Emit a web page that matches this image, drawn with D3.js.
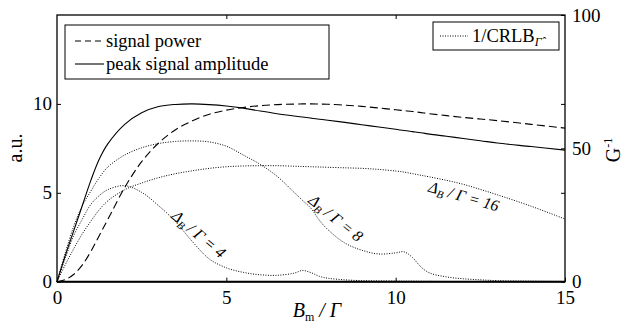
<!DOCTYPE html>
<html><head><meta charset="utf-8">
<script src="https://cdn.jsdelivr.net/npm/d3@7"></script>
<style>
body{margin:0;background:#fff;}
text{font-family:"Liberation Serif","Times New Roman",serif;fill:#000;}
</style></head>
<body><svg id="c" width="638" height="325"></svg>
<script>
// B_m / Gamma sample positions
const bValues = [0,0.25,0.5,0.75,1,1.25,1.5,2,2.5,3,3.5,4,4.5,5,5.5,6,6.5,7,7.25,7.5,7.75,8,8.5,9,9.5,10,10.25,10.5,10.75,11,11.5,12,12.5,13,14,15];
// left axis (a.u.)
const signalPower = [0,0.12,0.42,0.95,1.7,2.6,3.5,5.3,6.75,7.8,8.55,9.05,9.42,9.65,9.8,9.9,9.96,9.99,10,10,9.99,9.98,9.93,9.86,9.77,9.67,9.62,9.57,9.51,9.45,9.34,9.24,9.15,9.06,8.85,8.64];
const peakAmplitude = [0,1.5,2.9,4.3,5.7,6.9,7.75,8.85,9.5,9.85,9.97,10,9.96,9.88,9.76,9.6,9.45,9.32,9.26,9.2,9.14,9.08,8.96,8.83,8.7,8.57,8.5,8.44,8.38,8.3,8.18,8.05,7.93,7.8,7.6,7.4];
// right axis (G^-1), 1/CRLB for three Delta_B/Gamma ratios
const crlbD4 = [0,9,17.5,23.5,29,32.3,34.5,36,33.5,28.5,22.5,15,8.5,5.2,3.5,2.6,2.4,3.2,4.2,3.4,2.0,1.3,0.7,0.4,0.3,0.25,0.2,0.2,0.15,0.15,0.1,0.1,0.1,0.1,0.1,0.1];
const crlbD8 = [0,11,21,28.5,34,39,43,47.5,50.2,51.8,52.6,52.8,52.4,50.8,47.5,44,39.5,33.5,30.5,27.5,23,19.5,14.5,11.8,10.4,10.8,11.2,9,5.5,3.3,1.8,1.1,0.7,0.4,0.2,0.1];
const crlbD16 = [0,6.5,12.5,18,22.7,27,30.3,34.5,37,39,40.5,41.6,42.5,43.1,43.4,43.5,43.5,43.3,43.2,43.1,43,42.9,42.7,42.5,42.1,41.5,41.1,40.5,39.9,39.3,38,36.5,34.6,32.6,28.3,23.5];
const crlbSeries = [
  {name:"4", values:crlbD4},
  {name:"8", values:crlbD8},
  {name:"16", values:crlbD16}
];
const xTicks = [0,5,10,15];
const yLeftTicks = [0,5,10];
const yRightTicks = [0,50,100];

const svg = d3.select("#c");
const L=57,R=565,T=15,B=281.7;
const x = d3.scaleLinear().domain([0,15]).range([L,R]);
const yL = d3.scaleLinear().domain([0,15]).range([B,T]);
const yR = d3.scaleLinear().domain([0,100]).range([B,T]);
const FS = 19;

// curves
const pts = arr => arr.map((v,i)=>[bValues[i],v]);
const lineL = d3.line().x(d=>x(d[0])).y(d=>yL(d[1])).curve(d3.curveCatmullRom.alpha(0.5));
const lineR = d3.line().x(d=>x(d[0])).y(d=>yR(d[1])).curve(d3.curveCatmullRom.alpha(0.5));
const g = svg.append("g");
crlbSeries.forEach(s=>{
  g.append("path").attr("d",lineR(pts(s.values))).attr("fill","none")
   .attr("stroke","#000").attr("stroke-width",1).attr("stroke-dasharray","1,1.5");
});
g.append("path").attr("d",lineL(pts(signalPower))).attr("fill","none")
 .attr("stroke","#000").attr("stroke-width",1.1).attr("stroke-dasharray","8,4");
g.append("path").attr("d",lineL(pts(peakAmplitude))).attr("fill","none")
 .attr("stroke","#000").attr("stroke-width",1.1);

// curve labels
function ratioLabel(cx,cy,ang,val){
  const t = svg.append("text").attr("transform",`translate(${cx},${cy}) rotate(${ang})`)
    .attr("text-anchor","middle").attr("font-size",16).attr("font-style","italic").attr("dy","0.35em");
  t.append("tspan").text("Δ");
  t.append("tspan").attr("font-size",11).attr("dy",3).text("B");
  t.append("tspan").attr("dy",-3).text(" / Γ = "+val);
}
ratioLabel(199,234,40,crlbSeries[0].name);
ratioLabel(336,218,39,crlbSeries[1].name);
ratioLabel(464,196,16,crlbSeries[2].name);

// axes
const ax = svg.append("g");
ax.append("g").attr("transform",`translate(0,${B})`)
  .call(d3.axisBottom(x).tickValues(xTicks).tickSizeInner(-4).tickSizeOuter(0).tickPadding(9).tickFormat(d3.format("d")));
ax.append("g").attr("transform",`translate(0,${T})`)
  .call(d3.axisTop(x).tickValues([5,10]).tickSizeInner(-4).tickSizeOuter(0).tickFormat(""));
ax.append("g").attr("transform",`translate(${L},0)`)
  .call(d3.axisLeft(yL).tickValues(yLeftTicks).tickSizeInner(-4).tickSizeOuter(0).tickPadding(5));
ax.append("g").attr("transform",`translate(${R},0)`)
  .call(d3.axisRight(yL).tickValues([5,10]).tickSizeInner(-4).tickSizeOuter(0).tickFormat(""));
ax.append("g").attr("transform",`translate(${R},0)`)
  .call(d3.axisRight(yR).tickValues(yRightTicks).tickSizeInner(-4).tickSizeOuter(0).tickPadding(7));
ax.selectAll(".domain").remove();
ax.selectAll("text").attr("font-family",'"Liberation Serif",serif').attr("font-size",FS).attr("fill","#000");
ax.selectAll("line").attr("stroke","#000");
// box
svg.append("rect").attr("x",L).attr("y",T).attr("width",R-L).attr("height",B-T)
  .attr("fill","none").attr("stroke","#000").attr("stroke-width",1.3);
svg.append("line").attr("x1",L).attr("x2",R).attr("y1",B).attr("y2",B).attr("stroke","#000").attr("stroke-width",2);

// axis titles
svg.append("text").attr("transform",`translate(22,148) rotate(-90)`).attr("text-anchor","middle")
  .attr("font-size",20).text("a.u.");
const gl = svg.append("text").attr("transform",`translate(620,150) rotate(-90)`).attr("text-anchor","middle").attr("font-size",20);
gl.append("tspan").text("G");
gl.append("tspan").attr("font-size",12).attr("dy",-8).text("-1");
const xl = svg.append("text").attr("x",317).attr("y",317).attr("text-anchor","middle").attr("font-size",20);
xl.append("tspan").attr("font-style","italic").text("B");
xl.append("tspan").attr("font-size",12).attr("dy",4).text("m");
xl.append("tspan").attr("dy",-4).attr("font-style","italic").text(" / Γ");

// legend 1
const lg = svg.append("g");
lg.append("rect").attr("x",65).attr("y",25).attr("width",264).attr("height",54).attr("fill","#fff").attr("stroke","#000").attr("stroke-width",1);
lg.append("line").attr("x1",75).attr("x2",104).attr("y1",41).attr("y2",41).attr("stroke","#000").attr("stroke-width",1.1).attr("stroke-dasharray","6,4");
lg.append("text").attr("x",106).attr("y",47).attr("font-size",18.5).text("signal power");
lg.append("line").attr("x1",75).attr("x2",104).attr("y1",64).attr("y2",64).attr("stroke","#000").attr("stroke-width",1.1);
lg.append("text").attr("x",106).attr("y",70).attr("font-size",18.5).text("peak signal amplitude");
// legend 2
lg.append("rect").attr("x",433).attr("y",22).attr("width",126).attr("height",28).attr("fill","#fff").attr("stroke","#000").attr("stroke-width",1);
lg.append("line").attr("x1",440).attr("x2",468).attr("y1",36).attr("y2",36).attr("stroke","#000").attr("stroke-width",1).attr("stroke-dasharray","1,1.5");
const t2 = lg.append("text").attr("x",472).attr("y",42).attr("font-size",18.5);
t2.append("tspan").text("1/CRLB");
t2.append("tspan").attr("font-size",12).attr("dy",4).attr("font-style","italic").text("Γ̂");
</script></body></html>
